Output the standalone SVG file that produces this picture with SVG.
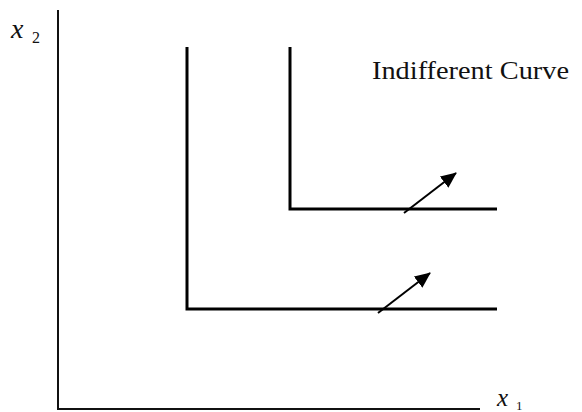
<svg xmlns="http://www.w3.org/2000/svg" width="582" height="412" viewBox="0 0 582 412">
<style>
.ax{stroke:#111;stroke-width:2;fill:none}
.cv{stroke:#000;stroke-width:3;fill:none}
.ar{stroke:#000;stroke-width:2;fill:none}
.t{font-family:"Liberation Serif","Times New Roman",serif;fill:#111}
.i{font-style:italic}
</style>
<defs>
<marker id="ah" viewBox="0 0 16 14" refX="15" refY="7" markerWidth="16" markerHeight="14" markerUnits="userSpaceOnUse" orient="auto">
<path d="M0,0 L16,7 L0,14 Z" fill="#000"/>
</marker>
</defs>
<g id="axes">
<line class="ax" x1="58" y1="10" x2="58" y2="409"/>
<line class="ax" x1="57" y1="409" x2="480" y2="409"/>
<text class="t i" x="11" y="38" font-size="28">x</text>
<text class="t" x="32" y="43" font-size="16">2</text>
<text class="t i" x="497" y="406" font-size="25">x</text>
<text class="t" x="516" y="410" font-size="13">1</text>
</g>
<g id="curve1">
<polyline class="cv" points="187,47 187,309 497,309"/>
</g>
<g id="curve2">
<polyline class="cv" points="290,47 290,209 497,209"/>
</g>
<g id="label">
<text class="t" x="372" y="79" font-size="26" textLength="197" lengthAdjust="spacingAndGlyphs">Indifferent Curve</text>
</g>
<g id="connectors">
<line class="ar" x1="404" y1="213" x2="456" y2="173" marker-end="url(#ah)"/>
<line class="ar" x1="378" y1="313" x2="430" y2="273" marker-end="url(#ah)"/>
</g>
</svg>
